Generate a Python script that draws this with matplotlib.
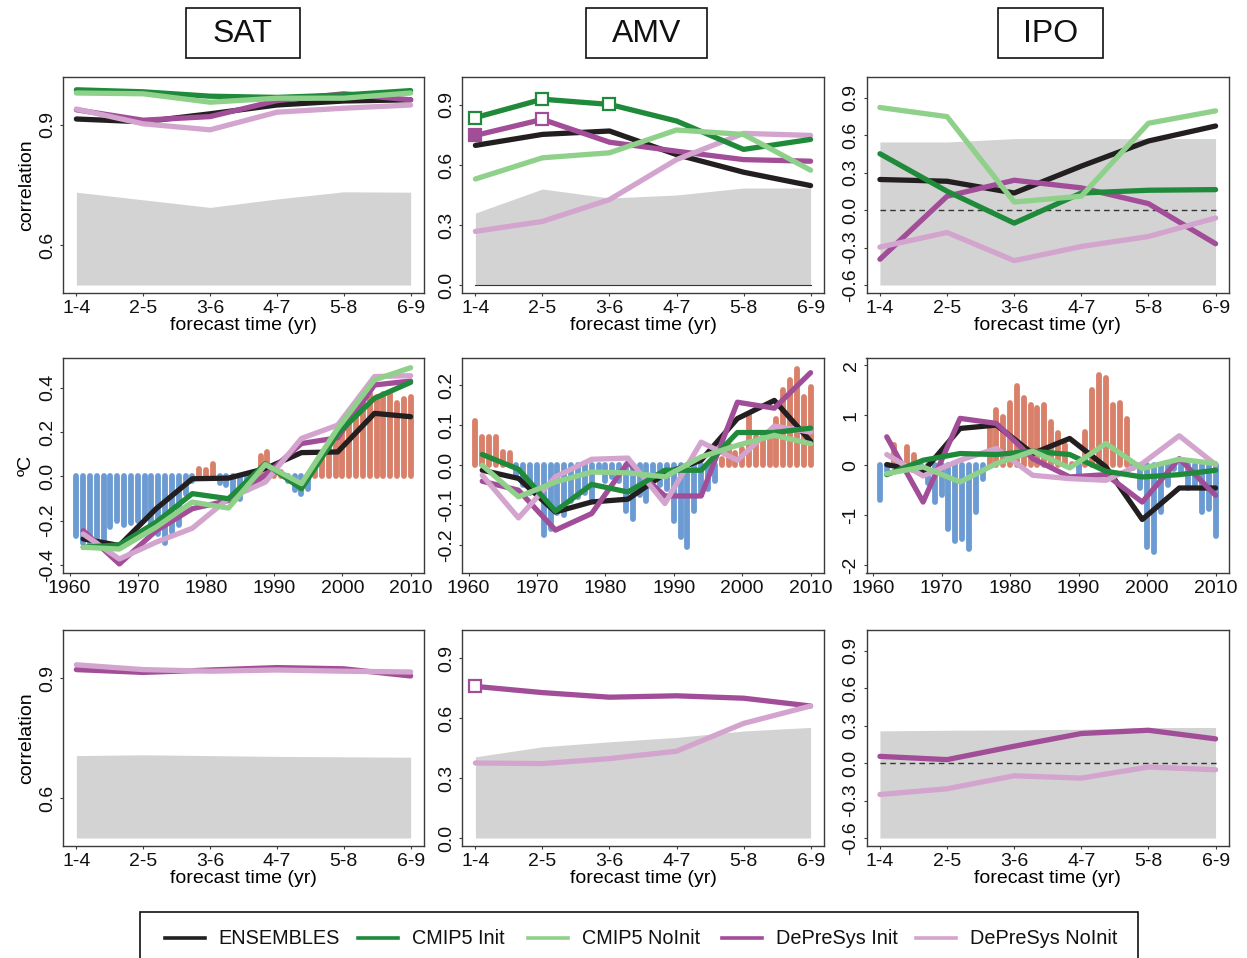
import numpy as np
import matplotlib
matplotlib.use("Agg")
import matplotlib.pyplot as plt
from matplotlib.patches import Rectangle
from matplotlib.lines import Line2D

plt.rcParams['font.family'] = ['Liberation Sans', 'DejaVu Sans']

# ---------------------------------------------------------------- data
leads = ["1-4", "2-5", "3-6", "4-7", "5-8", "6-9"]

# correlation skill vs forecast time (top row)
sat_ens = [0.915, 0.908, 0.928, 0.950, 0.960, 0.963]
sat_cmip_init = [0.988, 0.983, 0.972, 0.969, 0.975, 0.986]
sat_cmip_noinit = [0.980, 0.978, 0.957, 0.967, 0.967, 0.980]
sat_dps_init = [0.938, 0.912, 0.921, 0.961, 0.978, 0.963]
sat_dps_noinit = [0.940, 0.903, 0.888, 0.932, 0.942, 0.950]
sat_sig = [0.732, 0.713, 0.694, 0.715, 0.733, 0.732]

amv_ens = [0.698, 0.753, 0.770, 0.652, 0.564, 0.497]
amv_cmip_init = [0.837, 0.929, 0.903, 0.820, 0.678, 0.728]
amv_cmip_noinit = [0.530, 0.636, 0.661, 0.775, 0.753, 0.574]
amv_dps_init = [0.748, 0.828, 0.714, 0.669, 0.627, 0.619]
amv_dps_noinit = [0.268, 0.318, 0.427, 0.627, 0.758, 0.748]
amv_sig = [0.360, 0.480, 0.435, 0.450, 0.485, 0.485]
amv_cmip_init_signif = [0, 1, 2]
amv_dps_init_signif = [1]
amv_dps_init_filled = [0]

ipo_ens = [0.244, 0.230, 0.136, 0.351, 0.552, 0.672]
ipo_cmip_init = [0.450, 0.150, -0.105, 0.136, 0.158, 0.163]
ipo_cmip_noinit = [0.820, 0.747, 0.064, 0.110, 0.694, 0.793]
ipo_dps_init = [-0.394, 0.110, 0.238, 0.177, 0.051, -0.270]
ipo_dps_noinit = [-0.297, -0.180, -0.405, -0.292, -0.212, -0.064]
ipo_sig = [0.544, 0.544, 0.571, 0.571, 0.571, 0.571]

# correlation skill, DePreSys only (bottom row)
sat2_dps_init = [0.921, 0.914, 0.920, 0.926, 0.923, 0.905]
sat2_dps_noinit = [0.933, 0.921, 0.917, 0.920, 0.917, 0.915]
sat2_sig = [0.706, 0.708, 0.706, 0.704, 0.703, 0.702]

amv2_dps_init = [0.758, 0.727, 0.704, 0.711, 0.699, 0.660]
amv2_dps_noinit = [0.375, 0.372, 0.397, 0.434, 0.573, 0.660]
amv2_sig = [0.406, 0.456, 0.481, 0.503, 0.535, 0.553]
amv2_dps_init_signif = [0]

ipo2_dps_init = [0.053, 0.027, 0.134, 0.236, 0.262, 0.193]
ipo2_dps_noinit = [-0.252, -0.206, -0.102, -0.121, -0.032, -0.054]
ipo2_sig = [0.257, 0.262, 0.265, 0.270, 0.284, 0.284]

# observed annual anomalies (middle row bars)
obs_years = list(range(1961, 2011))
sat_obs = [-0.27, -0.30, -0.32, -0.31, -0.30, -0.23, -0.20, -0.22, -0.21, -0.20,
           -0.19, -0.22, -0.26, -0.30, -0.25, -0.22, -0.08, -0.02, 0.035, 0.03,
           0.055, -0.03, -0.04, -0.08, -0.10, -0.06, -0.01, 0.09, 0.11, 0.03,
           0.02, -0.02, -0.06, -0.08, -0.055, 0.05, 0.10, 0.16, 0.19, 0.21,
           0.27, 0.27, 0.33, 0.37, 0.36, 0.37, 0.38, 0.33, 0.35, 0.36]
amv_obs = [0.112, 0.07, 0.07, 0.07, 0.033, 0.03, -0.03, -0.05, -0.07, -0.06,
           -0.175, -0.16, -0.12, -0.125, -0.09, -0.08, -0.07, -0.085, -0.01, -0.04,
           -0.03, -0.04, -0.115, -0.135, -0.075, -0.09, -0.03, -0.05, -0.06, -0.14,
           -0.18, -0.205, -0.115, -0.075, -0.06, -0.04, 0.015, 0.05, 0.03, 0.04,
           0.125, 0.07, 0.07, 0.075, 0.117, 0.1875, 0.2125, 0.242, 0.171, 0.196]
ipo_obs = [-0.70, -0.12, 0.40, 0.05, 0.37, 0.20, -0.15, -0.35, -0.74, -0.60,
           -1.27, -1.51, -1.48, -1.68, -0.94, -0.27, 0.77, 1.10, 0.97, 1.24,
           1.58, 1.35, 1.20, 1.14, 1.20, 0.87, 0.64, 0.40, 0.03, -0.20,
           0.67, 1.51, 1.81, 1.74, 1.20, 1.24, 0.93, -0.05, -0.45, -1.64,
           -1.74, -0.94, -0.40, -0.07, -0.15, -0.45, -0.40, -0.94, -0.88, -1.41]

# 4-year-mean hindcasts (middle row lines)
ts_years = [1962, 1967.3, 1972.7, 1978, 1983.3, 1988.7, 1994, 1999.3, 2004.7, 2010]
sat_ts_ens = [-0.282, -0.312, -0.146, -0.011, -0.008, 0.035, 0.107, 0.110, 0.284, 0.269]
sat_ts_cmip_init = [-0.320, -0.309, -0.207, -0.078, -0.101, 0.057, -0.056, 0.193, 0.352, 0.424]
sat_ts_cmip_noinit = [-0.320, -0.328, -0.229, -0.116, -0.143, 0.053, -0.033, 0.216, 0.435, 0.490]
sat_ts_dps_init = [-0.245, -0.395, -0.245, -0.146, -0.109, 0.005, 0.148, 0.174, 0.412, 0.430]
sat_ts_dps_noinit = [-0.260, -0.373, -0.297, -0.234, -0.100, -0.026, 0.171, 0.231, 0.450, 0.454]

amv_ts_ens = [-0.0125, -0.033, -0.117, -0.092, -0.085, -0.021, 0.0125, 0.117, 0.1625, 0.060]
amv_ts_cmip_init = [0.027, -0.010, -0.115, -0.048, -0.067, -0.0125, -0.0125, 0.082, 0.082, 0.093]
amv_ts_cmip_noinit = [0.000, -0.079, -0.042, -0.017, -0.019, -0.029, 0.021, 0.050, 0.075, 0.054]
amv_ts_dps_init = [-0.040, -0.0625, -0.1625, -0.121, 0.007, -0.077, -0.077, 0.158, 0.143, 0.232]
amv_ts_dps_noinit = [-0.025, -0.132, -0.029, 0.015, 0.018, -0.096, 0.058, 0.0125, 0.098, 0.083]

ipo_ts_ens = [0.013, -0.134, 0.738, 0.805, 0.235, 0.537, -0.034, -1.087, -0.456, -0.456]
ipo_ts_cmip_init = [-0.188, 0.100, 0.235, 0.215, 0.282, 0.215, -0.121, -0.235, -0.188, -0.100]
ipo_ts_cmip_noinit = [-0.168, -0.034, -0.336, 0.034, 0.282, -0.054, 0.436, -0.067, 0.121, 0.034]
ipo_ts_dps_init = [0.570, -0.738, 0.940, 0.839, 0.134, -0.235, -0.188, -0.738, 0.134, -0.604]
ipo_ts_dps_noinit = [0.215, -0.215, 0.100, 0.336, -0.201, -0.268, -0.302, 0.034, 0.591, 0.013]

model_names = ["ENSEMBLES", "CMIP5 Init", "CMIP5 NoInit", "DePreSys Init", "DePreSys NoInit"]

# ---------------------------------------------------------------- style
COL = {
    "ENSEMBLES": "#231f20",
    "CMIP5 Init": "#1f8a3a",
    "CMIP5 NoInit": "#8fd18a",
    "DePreSys Init": "#a24d98",
    "DePreSys NoInit": "#d3a4cd",
}
# drawing order (later = on top)
ZORD = {"ENSEMBLES": 3, "DePreSys Init": 4, "DePreSys NoInit": 5,
        "CMIP5 Init": 6, "CMIP5 NoInit": 7}
GREY = "#d3d3d3"
RED = "#d9806a"
BLUE = "#6b9bd2"
EDGE = "#3a3a3a"
LW = 3.8
BAR_LW = 4.2
FS = 14

W, H = 1247, 958
fig = plt.figure(figsize=(W / 100, H / 100), dpi=100)


def add_ax(x0, y0, x1, y1):
    return fig.add_axes([x0 / W, 1 - y1 / H, (x1 - x0) / W, (y1 - y0) / H])


def style(ax):
    for s in ax.spines.values():
        s.set_color(EDGE)
        s.set_linewidth(1.0)
    ax.tick_params(direction="out", length=2.5, width=0.8, color=EDGE,
                   labelsize=FS, pad=2.5, labelcolor="#111111")


def set_yticks(ax, ticks, labels):
    ax.set_yticks(ticks, labels, rotation=90, va="center", fontsize=FS)


cols = [(63, 424), (462, 824), (866.5, 1229)]
rows = [(77, 293), (357.5, 573), (630, 846)]


def corr_panel(ax, series, sig, floor, ylim, yticks, ylabels,
               zero=None, squares=None):
    x = np.arange(len(leads))
    ax.fill_between(x, floor, sig, color=GREY, lw=0, zorder=1)
    if zero == "dashed":
        ax.plot([x[0], x[-1]], [0, 0], color="#333333", lw=1.0,
                dashes=(4, 3), zorder=2)
    elif zero == "solid":
        ax.plot([x[0], x[-1]], [0, 0], color="#333333", lw=0.8, zorder=2)
    for name, vals in series:
        ax.plot(x, vals, color=COL[name], lw=LW, solid_capstyle="round",
                solid_joinstyle="round", zorder=ZORD[name])
    if squares:
        for name, vals, idx, filled in squares:
            v = np.asarray(vals)
            ax.plot(x[idx], v[idx], ls="none", marker="s", ms=8.5,
                    mec=COL[name], mew=1.6,
                    mfc=COL[name] if filled else "white",
                    zorder=ZORD[name] + 0.5)
    ax.set_xlim(-0.2, 5.2)
    ax.set_ylim(*ylim)
    ax.set_xticks(x, leads)
    set_yticks(ax, yticks, ylabels)
    ax.set_xlabel("forecast time (yr)", fontsize=FS, labelpad=0)
    style(ax)


def ts_panel(ax, obs, series, ylim, yticks, ylabels):
    colors = [RED if v > 0 else BLUE for v in obs]
    bars = ax.vlines(obs_years, 0, obs, colors=colors, lw=BAR_LW, zorder=1.5)
    bars.set_capstyle("round")
    for name, vals in series:
        ax.plot(ts_years, vals, color=COL[name], lw=LW, solid_capstyle="round",
                solid_joinstyle="round", zorder=ZORD[name])
    ax.set_xlim(1959.04, 2011.96)
    ax.set_ylim(*ylim)
    ax.set_xticks([1960, 1970, 1980, 1990, 2000, 2010])
    set_yticks(ax, yticks, ylabels)
    style(ax)


def five(a, b, c, d, e):
    return list(zip(model_names, [a, b, c, d, e]))


# ---------------------------------------------------------------- top row
ax = add_ax(cols[0][0], rows[0][0], cols[0][1], rows[0][1])
corr_panel(ax, five(sat_ens, sat_cmip_init, sat_cmip_noinit, sat_dps_init, sat_dps_noinit),
           sat_sig, 0.5, (0.48, 1.02), [0.6, 0.9], ["0.6", "0.9"])
ax.set_ylabel("correlation", fontsize=FS, labelpad=3)

ax = add_ax(cols[1][0], rows[0][0], cols[1][1], rows[0][1])
corr_panel(ax, five(amv_ens, amv_cmip_init, amv_cmip_noinit, amv_dps_init, amv_dps_noinit),
           amv_sig, 0.0, (-0.04, 1.04), [0, 0.3, 0.6, 0.9],
           ["0.0", "0.3", "0.6", "0.9"], zero="solid",
           squares=[("CMIP5 Init", amv_cmip_init, amv_cmip_init_signif, False),
                    ("DePreSys Init", amv_dps_init, amv_dps_init_signif, False),
                    ("DePreSys Init", amv_dps_init, amv_dps_init_filled, True)])

ax = add_ax(cols[2][0], rows[0][0], cols[2][1], rows[0][1])
corr_panel(ax, five(ipo_ens, ipo_cmip_init, ipo_cmip_noinit, ipo_dps_init, ipo_dps_noinit),
           ipo_sig, -0.6, (-0.664, 1.064), [-0.6, -0.3, 0, 0.3, 0.6, 0.9],
           ["-0.6", "-0.3", "0.0", "0.3", "0.6", "0.9"], zero="dashed")

# ---------------------------------------------------------------- middle row
ax = add_ax(cols[0][0], rows[1][0], cols[0][1], rows[1][1])
ts_panel(ax, sat_obs, five(sat_ts_ens, sat_ts_cmip_init, sat_ts_cmip_noinit,
                           sat_ts_dps_init, sat_ts_dps_noinit),
         (-0.436, 0.536), [-0.4, -0.2, 0, 0.2, 0.4], ["-0.4", "-0.2", "0.0", "0.2", "0.4"])
ax.set_ylabel("ºC", fontsize=FS, labelpad=3)

ax = add_ax(cols[1][0], rows[1][0], cols[1][1], rows[1][1])
ts_panel(ax, amv_obs, five(amv_ts_ens, amv_ts_cmip_init, amv_ts_cmip_noinit,
                           amv_ts_dps_init, amv_ts_dps_noinit),
         (-0.27, 0.27), [-0.2, -0.1, 0, 0.1, 0.2], ["-0.2", "-0.1", "0.0", "0.1", "0.2"])

ax = add_ax(cols[2][0], rows[1][0], cols[2][1], rows[1][1])
ts_panel(ax, ipo_obs, five(ipo_ts_ens, ipo_ts_cmip_init, ipo_ts_cmip_noinit,
                           ipo_ts_dps_init, ipo_ts_dps_noinit),
         (-2.16, 2.16), [-2, -1, 0, 1, 2], ["-2", "-1", "0", "1", "2"])

# ---------------------------------------------------------------- bottom row
dps_only = lambda a, b: [("DePreSys Init", a), ("DePreSys NoInit", b)]

ax = add_ax(cols[0][0], rows[2][0], cols[0][1], rows[2][1])
corr_panel(ax, dps_only(sat2_dps_init, sat2_dps_noinit), sat2_sig, 0.5,
           (0.48, 1.02), [0.6, 0.9], ["0.6", "0.9"])
ax.set_ylabel("correlation", fontsize=FS, labelpad=3)

ax = add_ax(cols[1][0], rows[2][0], cols[1][1], rows[2][1])
corr_panel(ax, dps_only(amv2_dps_init, amv2_dps_noinit), amv2_sig, 0.0,
           (-0.04, 1.04), [0, 0.3, 0.6, 0.9], ["0.0", "0.3", "0.6", "0.9"],
           squares=[("DePreSys Init", amv2_dps_init, amv2_dps_init_signif, False)])

ax = add_ax(cols[2][0], rows[2][0], cols[2][1], rows[2][1])
corr_panel(ax, dps_only(ipo2_dps_init, ipo2_dps_noinit), ipo2_sig, -0.6,
           (-0.664, 1.064), [-0.6, -0.3, 0, 0.3, 0.6, 0.9],
           ["-0.6", "-0.3", "0.0", "0.3", "0.6", "0.9"], zero="dashed")

# ---------------------------------------------------------------- column titles
for title, (x0, x1) in [("SAT", (186, 300)), ("AMV", (586, 707)), ("IPO", (998, 1103))]:
    fig.add_artist(Rectangle((x0 / W, 1 - 58 / H), (x1 - x0) / W, 50 / H,
                             transform=fig.transFigure, fill=False,
                             ec="#111111", lw=1.2))
    fig.text((x0 + x1) / 2 / W, 1 - 34 / H, title, ha="center", va="center",
             fontsize=23, color="#111111")

# ---------------------------------------------------------------- legend
fig.add_artist(Rectangle((140 / W, 1 - 966 / H), (1138 - 140) / W, 54 / H,
                         transform=fig.transFigure, fill=False, ec="#111111", lw=1.2))
leg_pos = [(165, 218), (358, 412), (528, 582), (722, 776), (916, 970)]
ly = 1 - 938 / H
for name, (lx, tx) in zip(model_names, leg_pos):
    fig.add_artist(Line2D([lx / W, (lx + 40) / W], [ly, ly], transform=fig.transFigure,
                          color=COL[name], lw=2.6))
    fig.text(tx / W, ly, name, ha="left", va="center", fontsize=14.3, color="#111111")

fig.savefig("out.png", dpi=100)
